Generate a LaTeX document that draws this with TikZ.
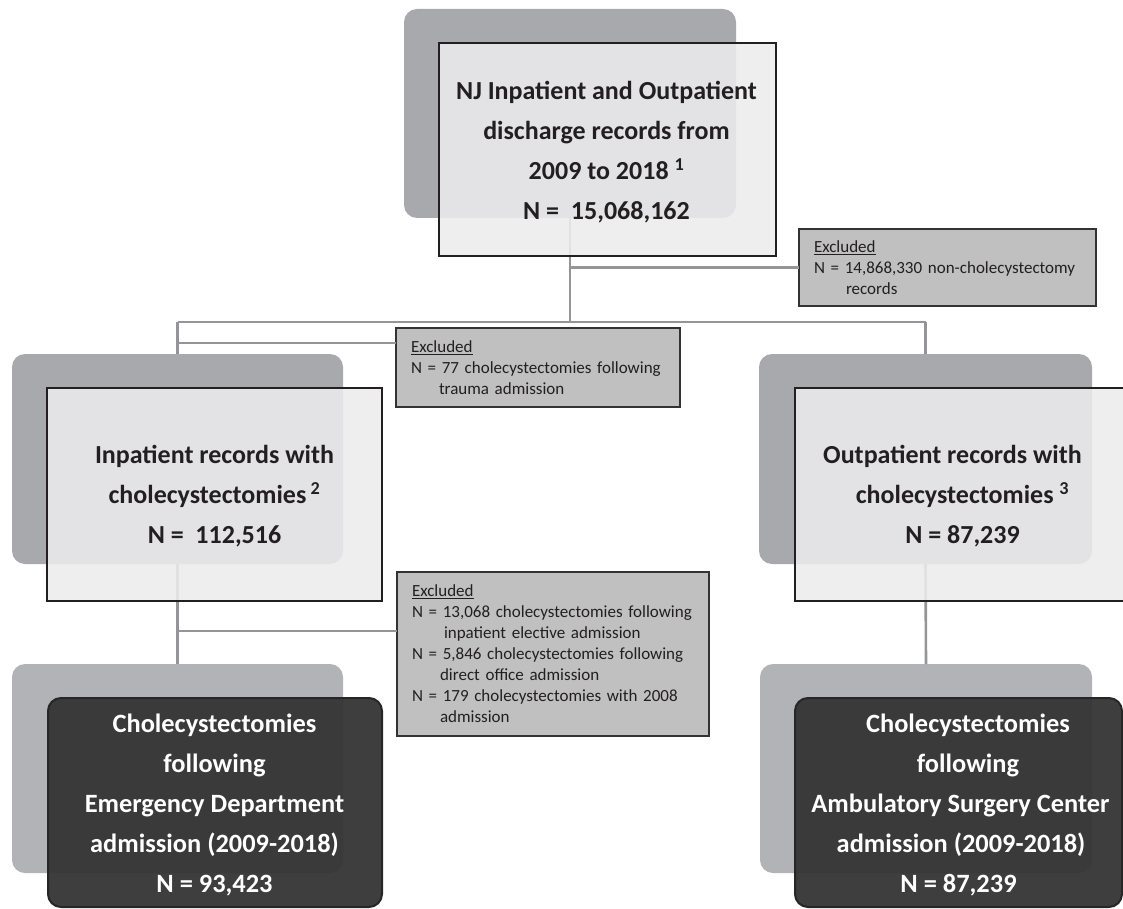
\documentclass[tikz,border=0pt]{standalone}
\usepackage{fontspec}
\setmainfont{Carlito}
\definecolor{bgdark}{HTML}{A7A9AC}
\definecolor{bglight}{HTML}{B2B3B6}
\definecolor{frontfill}{HTML}{ECECED}
\definecolor{darkfill}{HTML}{363636}
\definecolor{inkc}{HTML}{231F20}
\definecolor{exfill}{HTML}{C0C0C1}
\definecolor{connc}{HTML}{939598}
\begin{document}
\begin{tikzpicture}[x=1pt,y=-1pt,
  bgbox/.style={draw=none, rounded corners=13pt, inner sep=0pt, outer sep=0pt},
  bgupper/.style={bgbox, fill=bgdark},
  bglower/.style={bgbox, fill=bglight},
  frontlight/.style={draw=inkc, line width=2pt, fill=frontfill, fill opacity=0.88,
     inner sep=0pt, outer sep=0pt},
  frontdark/.style={draw=black!85, line width=2pt, rounded corners=13pt, fill=darkfill, fill opacity=0.96,
     inner sep=0pt, outer sep=0pt},
  lighttext/.style={text=inkc, align=center, inner sep=0pt,
     font=\fontsize{26}{40}\selectfont\bfseries},
  darktext/.style={text=white, align=center, inner sep=0pt,
     font=\fontsize{26.4}{40}\selectfont\bfseries},
  excl/.style={draw=black!80, line width=1.3pt, fill=exfill, text=inkc, align=left,
     inner xsep=15pt, inner ysep=0pt, outer sep=0pt,
     font=\fontsize{17}{21}\selectfont},
  conn/.style={draw=connc, line width=2.6pt}
]
\useasboundingbox (0,0) rectangle (1123,909);

% background rounded rectangles
\node[bgupper, minimum width=332pt, minimum height=209pt] (topbg) at (570,113.5) {};
\node[bgupper, minimum width=331pt, minimum height=210pt] (leftbg) at (177.5,459) {};
\node[bgupper, minimum width=333pt, minimum height=210pt] (rightbg) at (925.5,459) {};
\node[bglower, minimum width=331pt, minimum height=209pt] (leftbg2) at (177.5,768.5) {};
\node[bglower, minimum width=332pt, minimum height=209pt] (rightbg2) at (926,768.5) {};

% junction coordinates
\coordinate (j0) at (570,322);
\coordinate (jl) at (177.5,322);
\coordinate (jr) at (925.5,322);
\coordinate (jl2) at (177.5,343);
\coordinate (jl3) at (177.5,631);

% excluded boxes
\node[excl, minimum width=297pt, minimum height=77pt, text width=267pt] (ex1) at (947.5,267.5)
  {\underline{Excluded}\\N = 14,868,330 non-cholecystectomy\\\hspace*{32pt}records};
\node[excl, minimum width=284pt, minimum height=79pt, text width=254pt] (ex2) at (538,367.5)
  {\underline{Excluded}\\N = 77 cholecystectomies following\\\hspace*{28pt}trauma admission};
\node[excl, minimum width=312pt, minimum height=164pt, text width=282pt] (ex3) at (553,654)
  {\underline{Excluded}\\N = 13,068 cholecystectomies following\\\hspace*{32pt}inpatient elective admission\\N = 5,846 cholecystectomies following\\\hspace*{28pt}direct office admission\\N = 179 cholecystectomies with 2008\\\hspace*{28pt}admission};

% connectors
\draw[conn] (topbg.south) -- (j0);
\draw[conn] (topbg.south |- ex1.west) -- (ex1.west);
\draw[conn] (jl) -- (jr);
\draw[conn] (jl) -- (leftbg.north);
\draw[conn] (jl2) -- (ex2.west |- jl2);
\draw[conn] (jr) -- (rightbg.north);
\draw[conn] (leftbg.south) -- (leftbg2.north);
\draw[conn] (jl3) -- (ex3.west |- jl3);
\draw[conn] (rightbg.south) -- (rightbg2.north);

% front boxes
\node[frontlight, minimum width=337pt, minimum height=213pt] (top) at (607.5,149.5) {};
\node[lighttext] (toptext) at (606.5,152)
  {NJ Inpatient and Outpatient\\discharge records from\\2009 to 2018 \textsuperscript{1}\\N =\ \ 15,068,162};
\node[frontlight, minimum width=335pt, minimum height=213pt] (inpat) at (214.5,494.5) {};
\node[lighttext] (inpattext) at (214.5,496)
  {Inpatient records with\\cholecystectomies\,\textsuperscript{2}\\N =\ \ 112,516};
\node[frontlight, minimum width=335pt, minimum height=213pt] (outpat) at (962.5,494.5) {};
\node[lighttext] (outpattext) at (962.5,496)
  {Outpatient records with\hspace*{20pt}\\cholecystectomies \textsuperscript{3}\\N = 87,239};
\node[frontdark, minimum width=334pt, minimum height=209pt] (ed) at (215,802.5) {};
\node[darktext] (edtext) at (214.5,805.5)
  {Cholecystectomies\\following\\Emergency Department\hspace*{7pt}\\admission (2009-2018)\\N = 93,423};
\node[frontdark, minimum width=327pt, minimum height=209pt] (asc) at (958.5,802.5) {};
\node[darktext] (asctext) at (958.5,805.5)
  {\hspace*{19pt}Cholecystectomies\\\hspace*{19pt}following\\\hspace*{4pt}Ambulatory Surgery Center\\\hspace*{5pt}admission (2009-2018)\\N = 87,239};
\end{tikzpicture}
\end{document}
